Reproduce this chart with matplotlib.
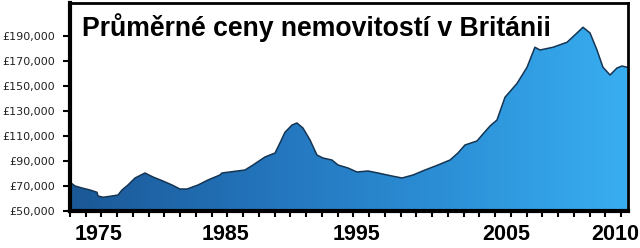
import numpy as np
import matplotlib
matplotlib.use('Agg')
import matplotlib.pyplot as plt
from matplotlib.colors import LinearSegmentedColormap
from matplotlib.patches import PathPatch

years = [1975.0, 1975.32, 1975.76, 1976.27, 1976.71, 1976.78, 1977.1, 1977.67, 1978.05, 1978.3,
         1978.68, 1979.13, 1979.76, 1980.27, 1980.9, 1981.48, 1981.98, 1982.43, 1983.13, 1983.76,
         1984.52, 1984.65, 1986.11, 1986.62, 1987.38, 1988.02, 1988.33, 1988.65, 1989.1, 1989.41,
         1989.79, 1990.24, 1990.68, 1991.06, 1991.63, 1992.02, 1992.65, 1993.22, 1993.92, 1994.56,
         1995.44, 1996.08, 1996.78, 1997.54, 1998.37, 1999.13, 1999.63, 2000.08, 2000.84, 2001.22,
         2001.67, 2002.11, 2002.62, 2003.38, 2004.02, 2004.52, 2004.84, 2005.67, 2006.56, 2007.19,
         2007.57, 2008.02, 2008.46, 2008.84, 2009.29, 2009.73, 2010.05, 2010.37]
prices = [73000, 70000, 68400, 66800, 65000, 62000, 61000, 62000, 62800, 66800,
          70800, 76400, 80400, 77200, 74000, 70800, 67600, 67600, 70800, 74800,
          78800, 80400, 82800, 86800, 93200, 96400, 104400, 113000, 118800, 120400,
          116400, 106800, 94800, 92400, 90800, 86800, 84400, 81200, 82000, 80400,
          78000, 76400, 78800, 82800, 86800, 90800, 96400, 102800, 106000, 111600,
          118000, 122800, 141000, 152000, 165000, 181000, 178800, 181000, 185000, 192400,
          197000, 192400, 178800, 165000, 158800, 164400, 166000, 165000]

ytick_vals = [50000, 70000, 90000, 110000, 130000, 150000, 170000, 190000]
ytick_labels = ['£50,000', '£70,000', '£90,000', '£110,000', '£130,000', '£150,000', '£170,000', '£190,000']
xlabel_text = ['1975', '1985', '1995', '2005', '2010']
xlabel_pos = [1976.8, 1984.9, 1993.2, 2002.7, 2009.6]  # where the labels sit in the original
title = 'Průměrné ceny nemovitostí v Británii'

fig = plt.figure(figsize=(6.4, 2.48), dpi=100)
ax = fig.add_axes([70/640, 37/248, 558/640, 208/248])

xmin, xmax = 1975.0, 2010.43
ymin, ymax = 50000, 216400

# gradient fill under the curve
poly = ax.fill_between(years, prices, ymin, facecolor='none', edgecolor='none')
clip = PathPatch(poly.get_paths()[0], transform=ax.transData, facecolor='none', edgecolor='none')
ax.add_patch(clip)
cmap = LinearSegmentedColormap.from_list('blu', ['#1b5896', '#2373ba', '#2c8fd6', '#38aef0'])
grad = np.linspace(0, 1, 256).reshape(1, -1)
img = ax.imshow(grad, extent=[xmin, xmax, ymin, ymax], aspect='auto', cmap=cmap,
                origin='lower', zorder=1, interpolation='bilinear')
img.set_clip_path(clip)
ax.plot(years, prices, color='#163553', lw=1.1, zorder=2)

ax.set_xlim(xmin, xmax)
ax.set_ylim(ymin, ymax)

ax.set_yticks(ytick_vals, ytick_labels)
ax.tick_params(axis='y', direction='out', length=5, width=1.5, labelsize=8,
               labelcolor='#222222', pad=6)
for lab in ax.get_yticklabels():
    lab.set_family(['DejaVu Sans'])

ax.set_xticks(np.arange(1975, 2011), minor=True)
ax.set_xticks(xlabel_pos, xlabel_text)
ax.tick_params(axis='x', which='major', length=0, pad=9, labelsize=15.5)
ax.tick_params(axis='x', which='minor', direction='out', length=4, width=1.5)
for lab in ax.get_xticklabels():
    lab.set_family(['Liberation Sans Narrow', 'DejaVu Sans Condensed', 'Liberation Sans'])
    lab.set_fontweight('bold')

for side in ['left', 'bottom']:
    ax.spines[side].set_linewidth(3)
for side in ['top', 'right']:
    ax.spines[side].set_linewidth(2)

ax.text(82/640, (248 - 36)/248, title, transform=fig.transFigure, fontsize=19.2, fontweight='bold',
        family=['Liberation Sans', 'DejaVu Sans'], color='black', va='baseline', zorder=5)

fig.savefig('out.png', dpi=100)
